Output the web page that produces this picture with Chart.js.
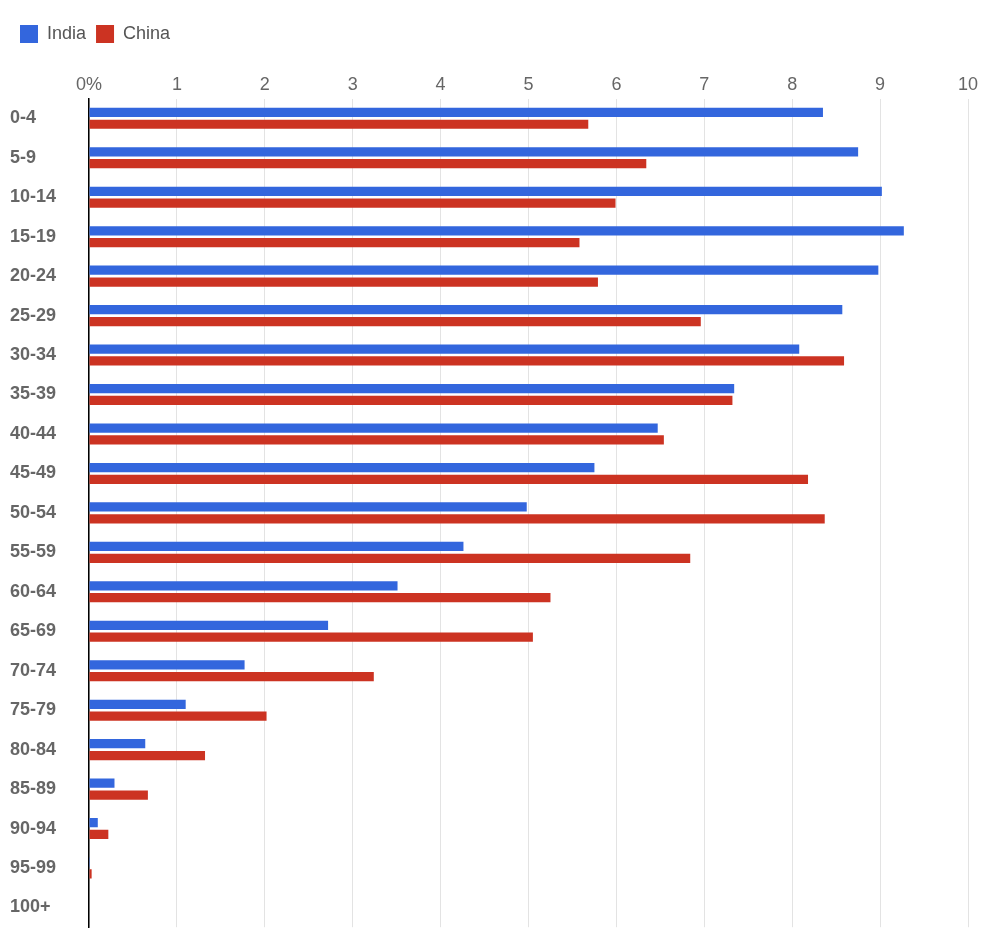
<!DOCTYPE html><html><head><script src="https://cdn.jsdelivr.net/npm/chart.js@4"></script>
<style>body{margin:0;background:#fff}#w{width:1000px;height:944px}</style></head><body><div id="w"><canvas id="c"></canvas></div>
<script>
const categories=["0-4","5-9","10-14","15-19","20-24","25-29","30-34","35-39","40-44","45-49","50-54","55-59","60-64","65-69","70-74","75-79","80-84","85-89","90-94","95-99","100+"];
const india=[8.35,8.75,9.02,9.27,8.98,8.57,8.08,7.34,6.47,5.75,4.98,4.26,3.51,2.72,1.77,1.10,0.64,0.29,0.10,0.01,0.00];
const china=[5.68,6.34,5.99,5.58,5.79,6.96,8.59,7.32,6.54,8.18,8.37,6.84,5.25,5.05,3.24,2.02,1.32,0.67,0.22,0.03,0.00];
new Chart(document.getElementById('c'),{type:'bar',
data:{labels:categories,datasets:[
{label:'India',data:india,backgroundColor:'#3366dd',categoryPercentage:0.6,barPercentage:0.78},
{label:'China',data:china,backgroundColor:'#cc3322',categoryPercentage:0.6,barPercentage:0.78}]},
plugins:[{id:'lg',beforeInit(c){const f=c.legend.fit;c.legend.fit=function(){f.call(this);this.height+=18;};}}],
options:{indexAxis:'y',responsive:true,maintainAspectRatio:false,animation:false,
layout:{padding:{left:10,right:32,top:15,bottom:10}},
plugins:{legend:{align:'start',labels:{boxWidth:18,boxHeight:18,font:{size:18,family:'Helvetica, Arial, Liberation Sans'},color:'#555'}},tooltip:{enabled:false}},
scales:{x:{position:'top',min:0,max:10,ticks:{stepSize:1,color:'#666',font:{size:18,family:'Liberation Sans'},callback:v=>v===0?'0%':v},grid:{color:'#e3e3e3',drawTicks:false},border:{display:false}},
y:{afterFit(s){s.width=79;},ticks:{color:'#666',crossAlign:'far',font:{size:18,weight:'bold',family:'Liberation Sans'},padding:6},grid:{display:false},border:{color:'#000',width:1.5}}}}});
</script></body></html>
